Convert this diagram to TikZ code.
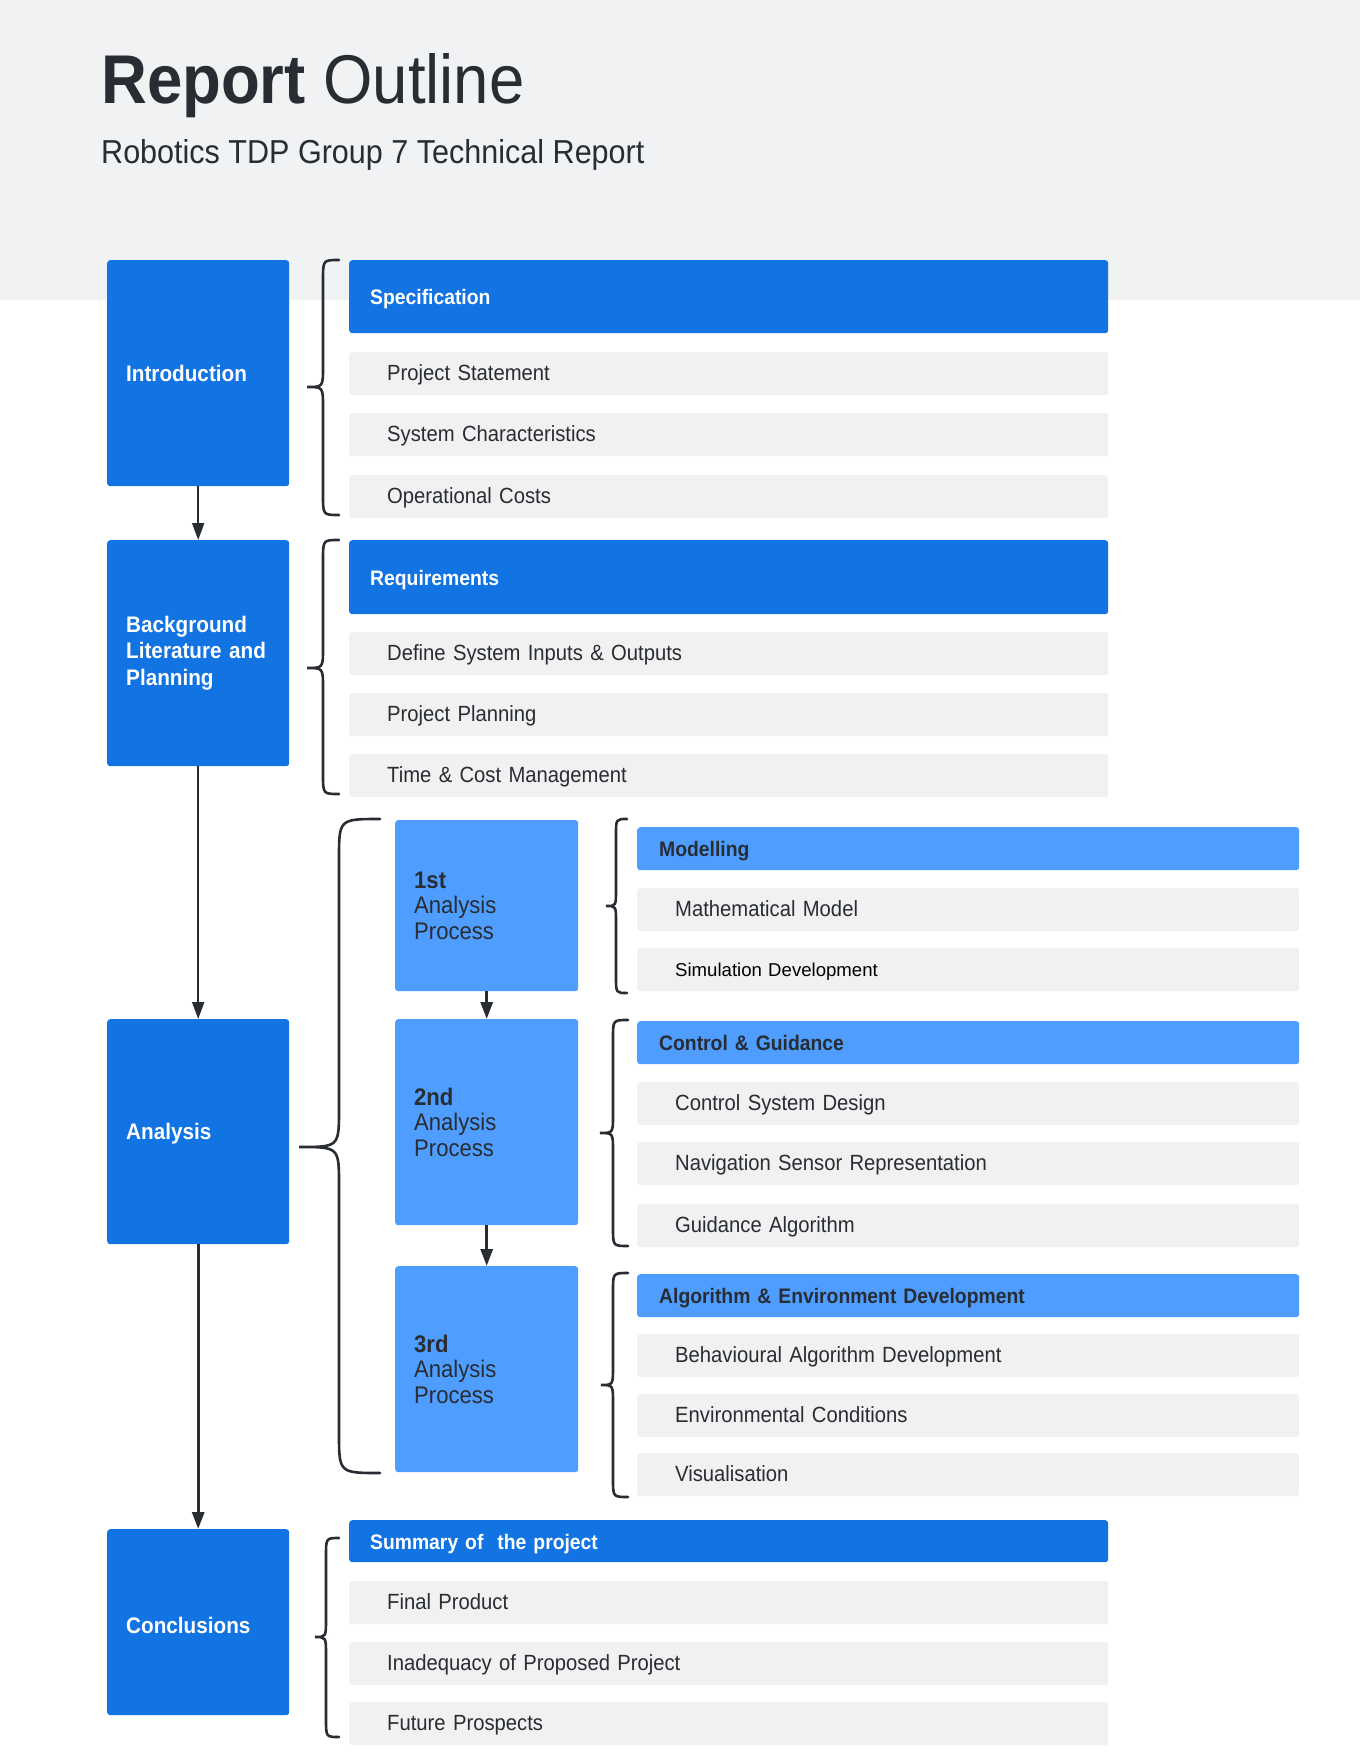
\documentclass[tikz,border=0pt]{standalone}
\usepackage{fontspec}
\setmainfont{Liberation Sans}[FakeStretch=0.92]
\newfontfamily\arialplain{Liberation Sans}
\usetikzlibrary{arrows.meta}

\definecolor{deepblue}{RGB}{18,115,227}
\definecolor{skyblue}{RGB}{79,158,255}
\definecolor{itemgray}{RGB}{241,241,241}
\definecolor{bandgray}{RGB}{241,242,244}
\definecolor{ink}{RGB}{40,44,51}

% curly brace: tip x, spine x, end x, top y, tip y, bottom y, end radius, tip radius
\newcommand\curlybrace[8]{%
  \draw[bracepen] (#3,#4) .. controls (#2,#4) .. (#2,#4+#7) -- (#2,#5-#8)
    .. controls (#2,#5) .. (#1,#5) .. controls (#2,#5) .. (#2,#5+#8)
    -- (#2,#6-#7) .. controls (#2,#6) .. (#3,#6);}

\tikzset{
  boxbase/.style={anchor=north west, rounded corners=3pt, inner ysep=0pt, align=left},
  headline/.style={boxbase, text height=18pt, text depth=2pt},
  itemline/.style={boxbase, text height=17pt, text depth=3pt},
  leftbox/.style={boxbase, fill=deepblue, text=white, minimum width=182pt,
    inner xsep=19pt, text width=144pt, font=\bfseries\fontsize{22.5}{26.5}\selectfont},
  procbox/.style={boxbase, fill=skyblue, text=ink, minimum width=183pt,
    inner xsep=19pt, text width=145pt, font=\fontsize{24}{25.5}\selectfont},
  whead/.style={headline, fill=deepblue, text=white, minimum width=759pt,
    inner xsep=21pt, text width=717pt, font=\bfseries\fontsize{21}{25}\selectfont},
  witem/.style={itemline, fill=itemgray, text=ink, minimum width=759pt, minimum height=43pt,
    inner xsep=38pt, text width=683pt, font=\fontsize{22}{26}\selectfont},
  nhead/.style={headline, fill=skyblue, text=ink, minimum width=662pt, minimum height=43pt,
    inner xsep=22pt, text width=618pt, font=\bfseries\fontsize{21}{25}\selectfont},
  nitem/.style={itemline, fill=itemgray, text=ink, minimum width=662pt, minimum height=43pt,
    inner xsep=38pt, text width=586pt, font=\fontsize{22}{26}\selectfont},
  bracepen/.style={draw=ink, line width=2.6pt, line cap=round},
  flow/.style={draw=ink, line width=2pt, -{Triangle[length=17pt,width=12pt]}},
  flowbold/.style={flow, line width=3pt},
}

\begin{document}
\begin{tikzpicture}[x=1pt,y=-1pt]
\useasboundingbox (0,0) rectangle (1360,1760);
\fill[white] (0,0) rectangle (1360,1760);
\fill[bandgray] (0,0) rectangle (1360,300);

% heading
\node[anchor=base west, inner sep=0pt, text=ink, font=\fontsize{69}{80}\selectfont]
  (title) at (101,104) {\textbf{Report} Outline};
\node[anchor=base west, inner sep=0pt, text=ink, font=\fontsize{33.2}{40}\selectfont]
  (subtitle) at (101,164) {Robotics TDP Group 7 Technical Report};

% main chapters
\node[leftbox, minimum height=226pt] (intro) at (107,260) {Introduction};
\node[leftbox, minimum height=226pt] (backg) at (107,540) {Background\\Literature and\\Planning};
\node[leftbox, minimum height=225pt, text height=18pt, text depth=2pt] (anal) at (107,1019) {Analysis};
\node[leftbox, minimum height=186pt, text height=22pt, text depth=0pt] (concl) at (107,1529) {Conclusions};

\draw[flow] (intro.south) -- (backg.north);
\draw[flow] (backg.south) -- (anal.north);
\draw[flowbold] (anal.south) -- (concl.north);

% introduction
\curlybrace{307}{323}{339}{260}{387}{515}{20}{20}
\node[whead, minimum height=73pt] (spec) at (349,260) {Specification};
\node[witem] (pstat) at (349,352) {Project Statement};
\node[witem] (sysch) at (349,413) {System Characteristics};
\node[witem] (opcost) at (349,475) {Operational Costs};

% background
\curlybrace{307}{323}{339}{540}{668}{794}{20}{20}
\node[whead, minimum height=74pt] (reqs) at (349,540) {Requirements};
\node[witem] (sysio) at (349,632) {Define System Inputs \& Outputs};
\node[witem] (plan) at (349,693) {Project Planning};
\node[witem] (tcm) at (349,754) {Time \& Cost Management};

% analysis processes
\curlybrace{299}{339}{380}{819}{1147}{1473}{40}{38}
\node[procbox, minimum height=171pt] (proc1) at (395,820) {\textbf{1st}\\Analysis\\Process};
\node[procbox, minimum height=206pt] (proc2) at (395,1019) {\textbf{2nd}\\Analysis\\Process};
\node[procbox, minimum height=206pt] (proc3) at (395,1266) {\textbf{3rd}\\Analysis\\Process};
\draw[flowbold] (proc1.south) -- (proc2.north);
\draw[flowbold] (proc2.south) -- (proc3.north);

\curlybrace{606}{616}{627}{819}{906}{993}{16}{16}
\node[nhead] (model) at (637,827) {Modelling};
\node[nitem] (mathm) at (637,888) {Mathematical Model};
\node[nitem, text=black, font=\arialplain\fontsize{18.6}{22}\selectfont] (simdev) at (637,948) {Simulation Development};

\curlybrace{600}{613}{628}{1020}{1133}{1246}{18}{18}
\node[nhead] (ctrl) at (637,1021) {Control \& Guidance};
\node[nitem] (csd) at (637,1082) {Control System Design};
\node[nitem] (nsr) at (637,1142) {Navigation Sensor Representation};
\node[nitem] (galg) at (637,1204) {Guidance Algorithm};

\curlybrace{601}{613}{628}{1273}{1385}{1497}{18}{18}
\node[nhead] (algenv) at (637,1274) {Algorithm \& Environment Development};
\node[nitem] (behav) at (637,1334) {Behavioural Algorithm Development};
\node[nitem] (envc) at (637,1394) {Environmental Conditions};
\node[nitem] (visu) at (637,1453) {Visualisation};

% conclusions
\curlybrace{315}{326}{339}{1538}{1637}{1737}{18}{18}
\node[whead, minimum height=42pt] (summ) at (349,1520) {Summary of~ the project};
\node[witem] (final) at (349,1581) {Final Product};
\node[witem] (inadq) at (349,1642) {Inadequacy of Proposed Project};
\node[witem] (future) at (349,1702) {Future Prospects};
\end{tikzpicture}
\end{document}
